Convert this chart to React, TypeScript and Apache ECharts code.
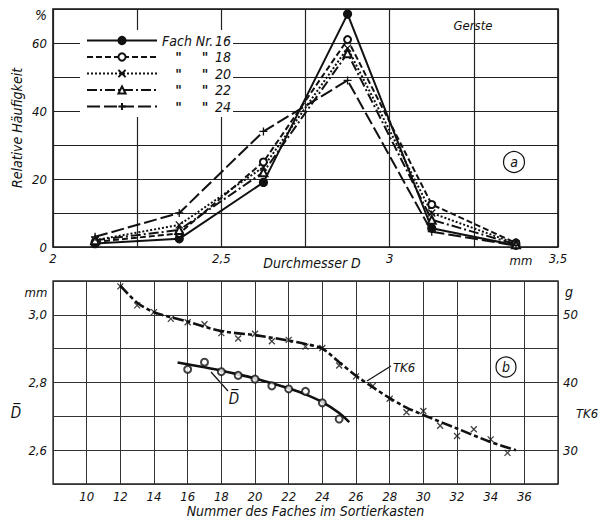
import React, { useEffect, useRef } from "react";
import * as echarts from "echarts";

const FONT = "'Liberation Sans Narrow', 'DejaVu Sans Condensed', 'Roboto Condensed', 'Liberation Sans', sans-serif";

// Panel a: relative frequency (%) vs. diameter D (mm)
const diameterMid = [2.125, 2.375, 2.625, 2.875, 3.125, 3.375];
const fach16 = [1, 2.4, 19, 68.5, 5.5, 0.5];
const fach18 = [1.5, 4, 25, 61, 12.5, 1.2];
const fach20 = [2, 6.5, 23.5, 58.5, 10, 1];
const fach22 = [2, 5, 22, 57, 8, 0.8];
const fach24 = [3, 10, 34, 49, 4.5, 0.4];
const topXLabels = [2, 2.5, 3, 3.5];
const topYLabels = [0, 20, 40, 60];
const legendNames = ["16", "18", "20", "22", "24"];

// Panel b: TK6 (g) and mean diameter D̄ (mm) vs. number of the sorting box
const tk6Fach = [12, 13, 14, 15, 16, 17, 18, 19, 20, 21, 22, 23, 24, 25, 26, 27, 28, 29, 30, 31, 32, 33, 34, 35];
const tk6Points = [54.2, 51.4, 50.4, 49.4, 48.9, 48.6, 47.3, 46.5, 47.2, 46.1, 46.3, 45.3, 45.1, 42.5, 40.9, 39.5, 37.6, 35.6, 35.8, 33.6, 32.1, 33.1, 31.6, 29.6];
const tk6CurveX = [12, 13, 14, 16, 18, 20, 22, 23, 24, 25, 26, 27, 28, 29, 30, 32, 34, 35.5];
const tk6CurveY = [54.3, 51.8, 50.4, 49.0, 47.6, 47.0, 46.2, 45.7, 45.0, 43.0, 41.0, 39.3, 37.7, 36.3, 35.2, 33.2, 31.2, 30.0];
const dFach = [16, 17, 18, 19, 20, 21, 22, 23, 24, 25];
const dPoints = [2.839, 2.86, 2.832, 2.821, 2.81, 2.79, 2.781, 2.774, 2.74, 2.692];
const dCurveX = [15.4, 17, 18, 19, 20, 21, 22, 23, 24, 25, 25.6];
const dCurveY = [2.859, 2.845, 2.835, 2.824, 2.812, 2.798, 2.783, 2.765, 2.742, 2.71, 2.683];
const bottomXLabels = [10, 12, 14, 16, 18, 20, 22, 24, 26, 28, 30, 32, 34, 36];
const leftYLabels = [2.6, 2.8, 3.0];
const rightYLabels = [30, 40, 50];

const zip = (xs: number[], ys: number[]) => xs.map((x, i) => [x, ys[i]]);
const near = (v: number, arr: number[]) => arr.some((a) => Math.abs(a - v) < 1e-6);
const comma = (v: number, d: number) => v.toFixed(d).replace(".", ",");

const X_SYM = "path://M0,0L10,10M10,0L0,10";
const PLUS_SYM = "path://M5,0L5,10M0,5L10,5";

const labelStyle = { color: "#111", fontFamily: FONT, fontStyle: "italic" as const, fontSize: 13 };

export default function App() {
  const ref = useRef<HTMLDivElement>(null);
  useEffect(() => {
    if (!ref.current) return;
    const chart = echarts.init(ref.current, undefined, { renderer: "svg" });
    const lineBase = (name: string, data: number[], dash: any, symbol: string, size: number) => ({
      name,
      type: "line",
      xAxisIndex: 0,
      yAxisIndex: 0,
      data: zip(diameterMid, data),
      symbol,
      symbolSize: size,
      showSymbol: true,
      lineStyle: { color: "#111", width: 2, type: dash },
      itemStyle: { color: "#111", borderColor: "#111", borderWidth: 1.3 },
      z: 3,
    });
    const option: any = {
      animation: false,
      backgroundColor: "#fff",
      textStyle: { fontFamily: FONT },
      grid: [
        { left: 53, top: 9, width: 505, height: 238, show: true, borderColor: "#111", borderWidth: 1.6, backgroundColor: "transparent" },
        { left: 53, top: 281, width: 505, height: 203, show: true, borderColor: "#222", borderWidth: 1.3, backgroundColor: "transparent" },
      ],
      xAxis: [
        {
          type: "value", gridIndex: 0, min: 2, max: 3.5, interval: 0.25,
          axisLine: { show: false }, axisTick: { show: false },
          splitLine: { show: true, lineStyle: { color: "#222", width: 1.2 } },
          axisLabel: { ...labelStyle, margin: 5, showMinLabel: true, showMaxLabel: true,
            formatter: (v: number) => (near(v, topXLabels) ? (Number.isInteger(v) ? String(v) : comma(v, 1)) : "") },
        },
        {
          type: "value", gridIndex: 1, min: 8, max: 38, interval: 2,
          axisLine: { show: false }, axisTick: { show: false },
          splitLine: { show: true, lineStyle: { color: "#333", width: 1 } },
          axisLabel: { ...labelStyle, margin: 6, formatter: (v: number) => (near(v, bottomXLabels) ? String(v) : "") },
          name: "Nummer des Faches im Sortierkasten", nameLocation: "middle", nameGap: 20,
          nameTextStyle: { ...labelStyle, fontSize: 14 },
        },
      ],
      yAxis: [
        {
          type: "value", gridIndex: 0, min: 0, max: 70, interval: 10,
          axisLine: { show: false }, axisTick: { show: false },
          splitLine: { show: true, lineStyle: { color: "#222", width: 1.2 } },
          axisLabel: { ...labelStyle, margin: 6, formatter: (v: number) => (near(v, topYLabels) ? String(v) : "") },
        },
        {
          type: "value", gridIndex: 1, min: 2.5, max: 3.1, interval: 0.1,
          axisLine: { show: false }, axisTick: { show: false },
          splitLine: { show: true, lineStyle: { color: "#333", width: 1 } },
          axisLabel: { ...labelStyle, margin: 6, formatter: (v: number) => (near(Math.round(v * 10) / 10, leftYLabels) ? comma(v, 1) : "") },
        },
        {
          type: "value", gridIndex: 1, min: 25, max: 55, interval: 5, position: "right",
          axisLine: { show: false }, axisTick: { show: false }, splitLine: { show: false },
          axisLabel: { ...labelStyle, margin: 5, formatter: (v: number) => (near(v, rightYLabels) ? String(v) : "") },
        },
      ],
      legend: {
        orient: "vertical",
        left: 80,
        top: 30,
        itemWidth: 70,
        itemHeight: 9,
        itemGap: 1.5,
        padding: [3, 2, 3, 6],
        backgroundColor: "#fff",
        data: legendNames.map((n) => "Fach " + n),
        textStyle: {
          ...labelStyle,
          fontSize: 14,
          lineHeight: 15,
          rich: {
            n: { ...labelStyle, fontSize: 14, width: 53, lineHeight: 15 },
            d: { ...labelStyle, fontSize: 14, fontWeight: "bold", width: 33, align: "center", lineHeight: 15 },
            e: { ...labelStyle, fontSize: 14, fontWeight: "bold", width: 20, align: "center", lineHeight: 15 },
            v: { ...labelStyle, fontSize: 14, lineHeight: 15 },
          },
        },
        formatter: (name: string) => {
          const num = name.replace("Fach ", "");
          return num === "16" ? `{n|Fach Nr.}{v|${num}}` : `{d|"}{e|"}{v|${num}}`;
        },
      },
      series: [
        lineBase("Fach 16", fach16, "solid", "circle", 8),
        lineBase("Fach 18", fach18, [6, 3], "emptyCircle", 7),
        lineBase("Fach 20", fach20, [2, 2], X_SYM, 7),
        lineBase("Fach 22", fach22, [10, 3, 2, 3], "emptyTriangle", 8),
        lineBase("Fach 24", fach24, [13, 4], PLUS_SYM, 8),
        {
          name: "TK6 Kurve", type: "line", xAxisIndex: 1, yAxisIndex: 2,
          data: zip(tk6CurveX, tk6CurveY), smooth: 0.3, showSymbol: false, symbol: "none",
          lineStyle: { color: "#111", width: 2.6, type: [11, 3, 4, 3] }, z: 2,
        },
        {
          name: "TK6", type: "scatter", xAxisIndex: 1, yAxisIndex: 2,
          data: zip(tk6Fach, tk6Points), symbol: X_SYM, symbolSize: 6,
          itemStyle: { color: "#111", borderColor: "#111", borderWidth: 1.3 }, z: 3,
        },
        {
          name: "D Kurve", type: "line", xAxisIndex: 1, yAxisIndex: 1,
          data: zip(dCurveX, dCurveY), smooth: 0.3, showSymbol: false, symbol: "none",
          lineStyle: { color: "#111", width: 2.6 }, z: 2,
        },
        {
          name: "D", type: "scatter", xAxisIndex: 1, yAxisIndex: 1,
          data: zip(dFach, dPoints), symbol: "emptyCircle", symbolSize: 7,
          itemStyle: { color: "#111", borderColor: "#111", borderWidth: 1.3 }, z: 3,
        },
      ],
      graphic: [
        { type: "text", left: 35, top: 8, style: { text: "%", ...labelStyle, fill: "#111", fontSize: 14 } },
        { type: "text", x: 17, y: 128, rotation: Math.PI / 2, style: { text: "Relative Häufigkeit", ...labelStyle, fill: "#111", fontSize: 14, align: "center", verticalAlign: "middle" } },
        { type: "text", x: 473, y: 25, style: { text: "Gerste", ...labelStyle, fill: "#111", fontSize: 13, align: "center", verticalAlign: "middle" } },
        { type: "circle", shape: { cx: 514, cy: 162, r: 10.5 }, style: { fill: "none", stroke: "#111", lineWidth: 1.2 } },
        { type: "text", x: 514, y: 162, style: { text: "a", ...labelStyle, fill: "#111", fontSize: 14, align: "center", verticalAlign: "middle" } },
        { type: "text", x: 312, y: 263, style: { text: "Durchmesser D", ...labelStyle, fill: "#111", fontSize: 14, align: "center", verticalAlign: "middle" } },
        { type: "text", x: 521, y: 260, style: { text: "mm", ...labelStyle, fill: "#111", fontSize: 13, align: "center", verticalAlign: "middle" } },
        { type: "text", x: 36, y: 292, style: { text: "mm", ...labelStyle, fill: "#111", fontSize: 13, align: "center", verticalAlign: "middle" } },
        { type: "text", x: 569, y: 292, style: { text: "g", ...labelStyle, fill: "#111", fontSize: 14, align: "center", verticalAlign: "middle" } },
        { type: "text", x: 16, y: 413, style: { text: "D\u0305", ...labelStyle, fill: "#111", fontSize: 15, align: "center", verticalAlign: "middle" } },
        { type: "text", x: 587, y: 413, style: { text: "TK6", ...labelStyle, fill: "#111", fontSize: 13, align: "center", verticalAlign: "middle" } },
        { type: "line", shape: { x1: 391, y1: 366, x2: 367, y2: 381 }, style: { stroke: "#111", lineWidth: 1.2 } },
        { type: "text", x: 404, y: 367, style: { text: "TK6", ...labelStyle, fill: "#111", fontSize: 13, align: "center", verticalAlign: "middle" } },
        { type: "line", shape: { x1: 211, y1: 372, x2: 228, y2: 391 }, style: { stroke: "#111", lineWidth: 1.2 } },
        { type: "text", x: 234, y: 399, style: { text: "D\u0305", ...labelStyle, fill: "#111", fontSize: 15, align: "center", verticalAlign: "middle" } },
        { type: "circle", shape: { cx: 506, cy: 367, r: 10 }, style: { fill: "none", stroke: "#111", lineWidth: 1.2 } },
        { type: "text", x: 506, y: 367, style: { text: "b", ...labelStyle, fill: "#111", fontSize: 14, align: "center", verticalAlign: "middle" } },
      ],
    };
    chart.setOption(option);
    return () => chart.dispose();
  }, []);
  return <div ref={ref} style={{ position: "absolute", left: 0, top: 0, width: 605, height: 520 }} />;
}
